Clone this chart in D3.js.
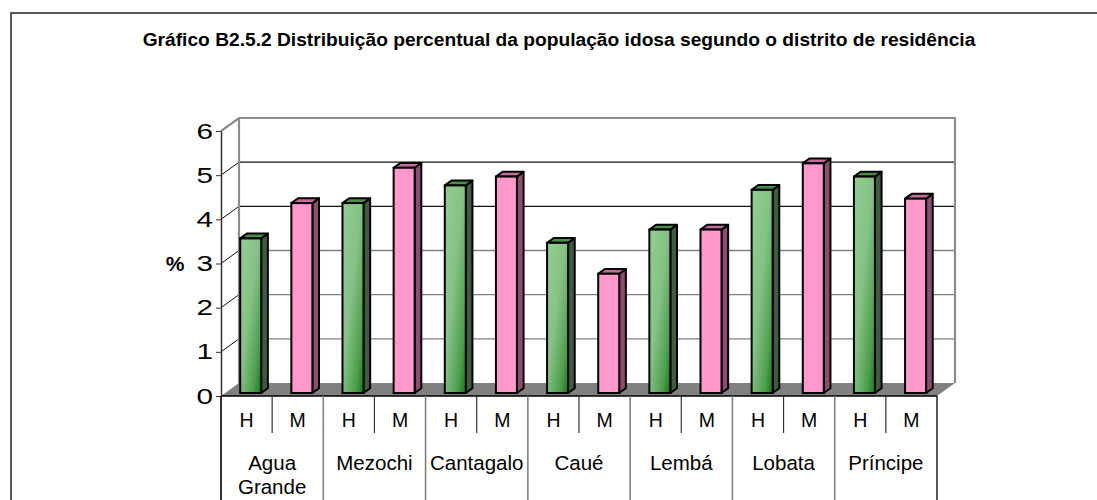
<!DOCTYPE html>
<html>
<head>
<meta charset="utf-8">
<script src="https://cdn.jsdelivr.net/npm/d3@7"></script>
<style>
  body { margin: 0; background: #fff; }
  text { font-family: "Liberation Sans", Arial, sans-serif; fill: #000; }
</style>
</head>
<body>
<svg id="chart" width="1097" height="500"></svg>
<script>
// data
var districts = ["Agua Grande", "Mezochi", "Cantagalo", "Caué", "Lembá", "Lobata", "Príncipe"];
var sexes = ["H", "M"];
var homens = [3.5, 4.3, 4.7, 3.4, 3.7, 4.6, 4.9];
var mulheres = [4.3, 5.1, 4.9, 2.7, 3.7, 5.2, 4.4];
var yTicks = [0, 1, 2, 3, 4, 5, 6];
var title = "Gráfico B2.5.2 Distribuição percentual da população idosa segundo o distrito de residência";

var data = [];
districts.forEach(function(d, i) {
  data.push({key: d + "|H", district: d, sex: "H", value: homens[i]});
  data.push({key: d + "|M", district: d, sex: "M", value: mulheres[i]});
});

var svg = d3.select("#chart");

// depth of the 3d box
var DX = 18, DY = -13;
var plotL = 221, plotR = 937, plotB = 396, plotT = 131;

var x = d3.scaleBand().domain(data.map(function(d) { return d.key; })).range([plotL, plotR]);
var y = d3.scaleLinear().domain([0, 6]).range([plotB, plotT]);

var defs = svg.append("defs");
function grad(id, stops) {
  var g = defs.append("linearGradient").attr("id", id)
    .attr("x1", 0).attr("y1", 0).attr("x2", 1).attr("y2", 1);
  stops.forEach(function(s) {
    g.append("stop").attr("offset", s[0]).attr("stop-color", s[1]);
  });
}
grad("gH", [[0, "#92cc92"], [0.45, "#86c286"], [0.8, "#4e9d4e"], [1, "#167816"]]);

// outer frame
svg.append("rect")
  .attr("x", 11).attr("y", 13).attr("width", 1200).attr("height", 600)
  .attr("fill", "none").attr("stroke", "#222").attr("stroke-width", 1.5);

svg.append("text")
  .attr("x", 559).attr("y", 46)
  .attr("text-anchor", "middle")
  .attr("font-weight", "bold").attr("font-size", 19.2)
  .text(title);

// back wall gridlines
var grid = svg.append("g");
yTicks.slice(1, 6).forEach(function(t) {
  var c = t >= 4 ? "#111" : "#808080";
  grid.append("line")
    .attr("x1", plotL + DX).attr("x2", plotR + DX)
    .attr("y1", y(t) + DY).attr("y2", y(t) + DY)
    .attr("stroke", c).attr("stroke-width", 1.3);
  grid.append("line")
    .attr("x1", plotL).attr("x2", plotL + DX)
    .attr("y1", y(t)).attr("y2", y(t) + DY)
    .attr("stroke", "#111").attr("stroke-width", 1);
});

// wall edges
grid.append("path")
  .attr("d", "M" + plotL + "," + y(6) + "L" + (plotL + DX) + "," + (y(6) + DY) +
    "L" + (plotR + DX) + "," + (y(6) + DY) + "L" + (plotR + DX) + "," + (y(0) + DY))
  .attr("fill", "none").attr("stroke", "#8c8c8c").attr("stroke-width", 2.2);
grid.append("line")
  .attr("x1", plotL + DX).attr("x2", plotL + DX)
  .attr("y1", y(6) + DY).attr("y2", y(0) + DY)
  .attr("stroke", "#8c8c8c").attr("stroke-width", 2.2);

// floor
svg.append("path")
  .attr("d", "M" + plotL + "," + plotB + "L" + (plotL + DX) + "," + (plotB + DY) +
    "L" + (plotR + DX) + "," + (plotB + DY) + "L" + plotR + "," + plotB + "Z")
  .attr("fill", "#808080");

// bars
var barW = 21, dF = 0.23, dB = 0.6;
var bars = svg.append("g").selectAll("g").data(data).enter().append("g");

function fx(d) { return x(d.key) + (x.bandwidth() - barW) / 2 + DX * dF; }
function yv(v, dd) { return y(v) + DY * dd; }

bars.append("path")
  .attr("d", function(d) {
    var x0 = fx(d), x1 = x0 + barW, s = DX * (dB - dF), t = DY * (dB - dF);
    var yt = yv(d.value, dF), yb = yv(0, dF);
    return "M" + x1 + "," + yt + "L" + (x1 + s) + "," + (yt + t) +
      "L" + (x1 + s) + "," + (yb + t) + "L" + x1 + "," + yb + "Z";
  })
  .attr("fill", function(d) { return d.sex == "H" ? "#3f5c41" : "#8a4e6e"; })
  .attr("stroke", "#000").attr("stroke-width", 2).attr("stroke-linejoin", "round");

bars.append("path")
  .attr("d", function(d) {
    var x0 = fx(d), x1 = x0 + barW, s = DX * (dB - dF), t = DY * (dB - dF);
    var yt = yv(d.value, dF);
    return "M" + x0 + "," + yt + "L" + (x0 + s) + "," + (yt + t) +
      "L" + (x1 + s) + "," + (yt + t) + "L" + x1 + "," + yt + "Z";
  })
  .attr("fill", function(d) { return d.sex == "H" ? "#4d8c4d" : "#c46d9c"; })
  .attr("stroke", "#000").attr("stroke-width", 2).attr("stroke-linejoin", "round");

bars.append("rect")
  .attr("x", fx)
  .attr("y", function(d) { return yv(d.value, dF); })
  .attr("width", barW)
  .attr("height", function(d) { return yv(0, dF) - yv(d.value, dF); })
  .attr("fill", function(d) { return d.sex == "H" ? "url(#gH)" : "#ff99cc"; })
  .attr("stroke", "#000").attr("stroke-width", 2);

// y axis
var yAxis = svg.append("g")
  .attr("transform", "translate(" + plotL + ",0)")
  .call(d3.axisLeft(y).tickValues(yTicks).tickFormat(d3.format("d"))
    .tickSize(5).tickSizeOuter(0).tickPadding(3));
yAxis.select(".domain").attr("stroke", "#333").attr("stroke-width", 1.5);
yAxis.selectAll(".tick line").attr("stroke", "#333");
// the digits in the picture are drawn wide, stretch them a bit
yAxis.selectAll(".tick text")
  .attr("x", 0)
  .attr("transform", "translate(-8,0) scale(1.35,1)")
  .attr("font-size", 22)
  .style("font-family", "'Liberation Sans', Arial, sans-serif")
  .attr("fill", "#000");

svg.append("text")
  .attr("x", 175).attr("y", 271)
  .attr("text-anchor", "middle")
  .attr("font-weight", "bold").attr("font-size", 21)
  .text("%");

// category table under the floor
var tbl = svg.append("g");
tbl.append("line")
  .attr("x1", plotL).attr("x2", plotR).attr("y1", plotB).attr("y2", plotB)
  .attr("stroke", "#000").attr("stroke-width", 1.3);
data.forEach(function(d, i) {
  var xx = x(d.key);
  var grp = i % 2 == 0;
  tbl.append("line")
    .attr("x1", xx).attr("x2", xx)
    .attr("y1", plotB).attr("y2", grp ? 500 : 433)
    .attr("stroke", (i == 0) ? "#000" : (grp ? "#808080" : "#333"))
    .attr("stroke-width", grp ? 1.6 : 1.2);
  tbl.append("text")
    .attr("x", xx + x.bandwidth() / 2).attr("y", 427)
    .attr("text-anchor", "middle").attr("font-size", 19.5)
    .text(d.sex);
});
tbl.append("line")
  .attr("x1", plotR).attr("x2", plotR).attr("y1", plotB).attr("y2", 500)
  .attr("stroke", "#000").attr("stroke-width", 1.3);

districts.forEach(function(d, i) {
  var cx = x(d + "|H") + x.bandwidth();
  var words = d == "Agua Grande" ? ["Agua", "Grande"] : [d];
  words.forEach(function(w, j) {
    tbl.append("text")
      .attr("x", cx).attr("y", 470 + j * 24)
      .attr("text-anchor", "middle").attr("font-size", 20.5)
      .text(w);
  });
});
</script>
</body>
</html>
